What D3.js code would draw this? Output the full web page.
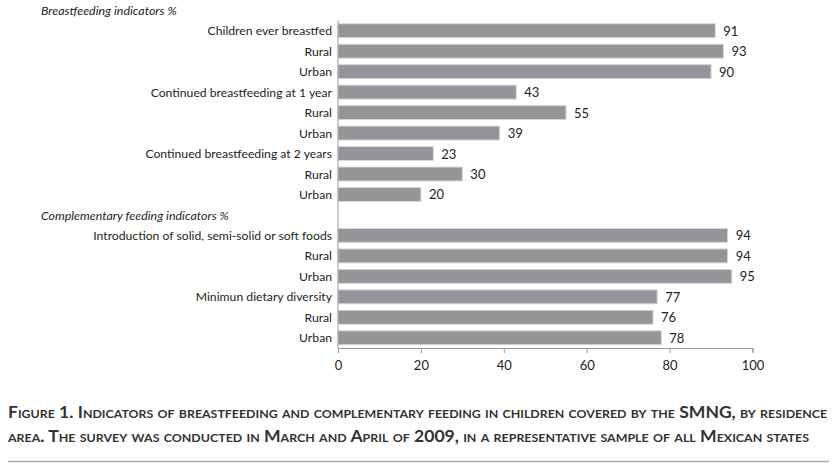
<!DOCTYPE html>
<html>
<head>
<meta charset="utf-8">
<script src="https://cdn.jsdelivr.net/npm/d3@7"></script>
<style>
  body { margin: 0; background: #fff; }
  text { font-family: Lato, "Open Sans", sans-serif; }
</style>
</head>
<body>
<div class="content"></div>
<script>
const w = 835;
const h = 466;

// data
const bfLabels = ['Children ever breastfed', 'Rural', 'Urban',
  'Continued breastfeeding at 1 year', 'Rural', 'Urban',
  'Continued breastfeeding at 2 years', 'Rural', 'Urban'];
const bfValues = [91, 93, 90, 43, 55, 39, 23, 30, 20];

const cfLabels = ['Introduction of solid, semi-solid or soft foods', 'Rural', 'Urban',
  'Minimun dietary diversity', 'Rural', 'Urban'];
const cfValues = [94, 94, 95, 77, 76, 78];

const sections = ['Breastfeeding indicators %', 'Complementary feeding indicators %'];
const xTicks = [0, 20, 40, 60, 80, 100];

const captionLines = [
  'Figure 1. Indicators of breastfeeding and complementary feeding in children covered by the SMNG, by residence',
  'area. The survey was conducted in March and April of 2009, in a representative sample of all Mexican states'
];

// rows: header, bars, header, bars
const rows = [];
rows.push({ header: sections[0] });
bfLabels.forEach((l, i) => rows.push({ label: l, value: bfValues[i] }));
rows.push({ header: sections[1] });
cfLabels.forEach((l, i) => rows.push({ label: l, value: cfValues[i] }));
rows.forEach((r, i) => r.i = i);

const svg = d3.select('.content').append('svg')
  .attr('width', w)
  .attr('height', h);

const x = d3.scaleLinear().domain([0, 100]).range([338, 752.5]);
const y = d3.scaleBand()
  .domain(rows.map(r => r.i))
  .range([0, 348])
  .paddingInner(0.32)
  .paddingOuter(0.16);

const bars = rows.filter(r => r.header === undefined);
const heads = rows.filter(r => r.header !== undefined);

svg.selectAll('rect.bar')
  .data(bars)
  .enter()
  .append('rect')
  .attr('class', 'bar')
  .attr('x', x(0))
  .attr('y', d => y(d.i))
  .attr('width', d => x(d.value) - x(0))
  .attr('height', y.bandwidth())
  .attr('fill', '#939598')
  .attr('stroke', '#d6d7d8')
  .attr('stroke-width', 1);

svg.selectAll('text.val')
  .data(bars)
  .enter()
  .append('text')
  .attr('class', 'val')
  .attr('x', d => x(d.value) + 8)
  .attr('y', d => y(d.i) + y.bandwidth() / 2 + 5)
  .attr('font-size', 13)
  .attr('fill', '#231f20')
  .text(d => d.value);

svg.selectAll('text.lab')
  .data(bars)
  .enter()
  .append('text')
  .attr('class', 'lab')
  .attr('x', 332)
  .attr('y', d => y(d.i) + y.bandwidth() / 2 + 4.5)
  .attr('text-anchor', 'end')
  .attr('font-size', 12.2)
  .attr('fill', '#231f20')
  .text(d => d.label);

svg.selectAll('text.head')
  .data(heads)
  .enter()
  .append('text')
  .attr('class', 'head')
  .attr('x', 41)
  .attr('y', d => y(d.i) + y.bandwidth() / 2 + 5)
  .attr('font-size', 12.4)
  .attr('font-style', 'italic')
  .attr('fill', '#231f20')
  .text(d => d.header);

// vertical axis line
svg.append('line')
  .attr('x1', x(0)).attr('x2', x(0))
  .attr('y1', y.step() * 1).attr('y2', 348)
  .attr('stroke', '#9a9a9a');

// x axis
const xAxis = d3.axisBottom(x)
  .tickValues(xTicks)
  .tickSize(5)
  .tickPadding(8);

const gx = svg.append('g')
  .attr('transform', 'translate(0,348)')
  .call(xAxis);
gx.select('.domain').attr('stroke', '#9a9a9a');
gx.selectAll('.tick line').attr('stroke', '#9a9a9a');
gx.selectAll('.tick text')
  .attr('font-size', 13)
  .attr('font-family', 'Lato, sans-serif')
  .attr('fill', '#231f20');

// caption
const capY = [418, 442];
const capW = [819, 801];
captionLines.forEach((t, i) => {
  svg.append('text')
    .attr('x', 8)
    .attr('y', capY[i])
    .attr('font-size', 17)
    .attr('font-weight', 'bold')
    .attr('font-variant', 'small-caps')
    .attr('fill', '#333')
    .attr('textLength', capW[i])
    .attr('lengthAdjust', 'spacingAndGlyphs')
    .text(t);
});

svg.append('line')
  .attr('x1', 8).attr('x2', 829)
  .attr('y1', 461.5).attr('y2', 461.5)
  .attr('stroke', '#aaa')
  .attr('stroke-width', 1.5);
</script>
</body>
</html>
